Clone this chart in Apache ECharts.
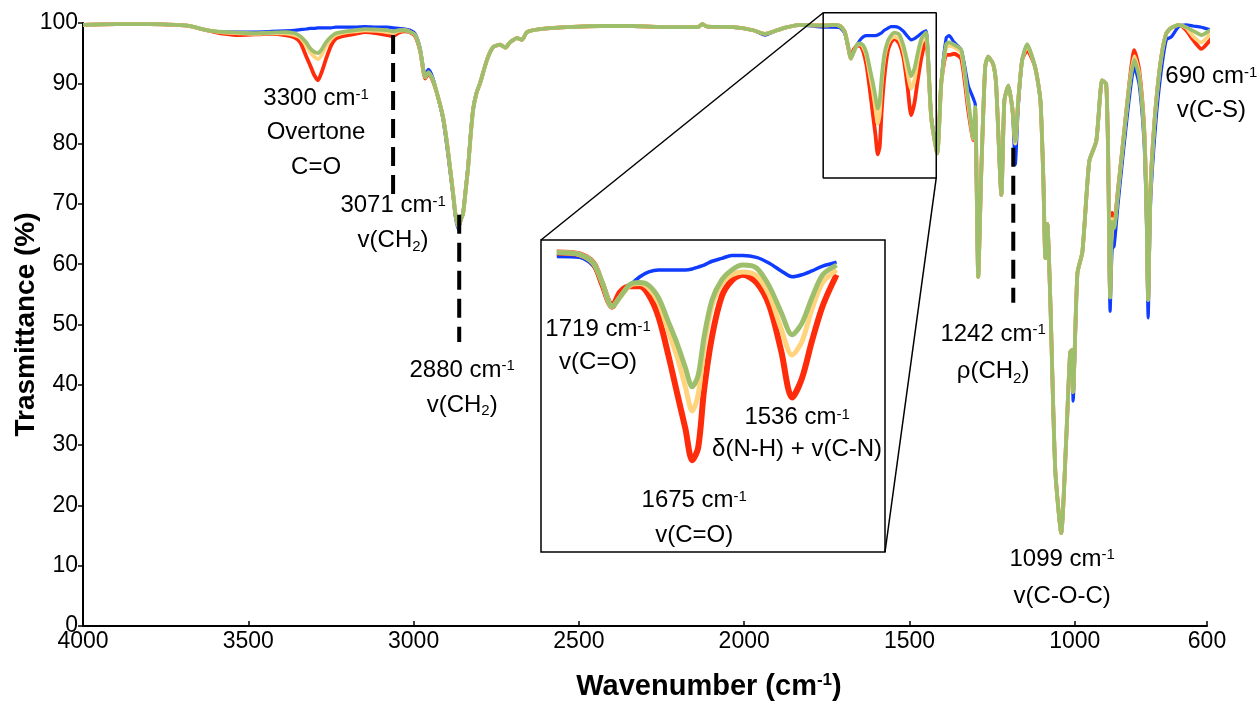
<!DOCTYPE html>
<html><head><meta charset="utf-8">
<script src="https://cdn.jsdelivr.net/npm/echarts@6/dist/echarts.min.js"></script>
<style>html,body{margin:0;padding:0;background:#fff}#c{width:1257px;height:708px}</style>
</head><body><div id="c"></div>
<script>
// Wavenumber (cm-1)
const wavenumber = [
 4000,3900,3800,3720,3676,3640,3600,3570,3530,3480,
 3430,3390,3360,3343,3325,3313,3300,3289,3277,3265,
 3250,3235,3207,3177,3147,3110,3080,3062,3045,3026,
 3010,2995,2980,2965,2955,2941,2925,2911,2900,2890,
 2880,2874,2865,2856,2850,2842,2835,2828,2820,2810,
 2799,2778,2759,2738,2723,2708,2687,2672,2657,2617,
 2536,2436,2336,2233,2140,2127,2112,2033,1973,1937,
 1900,1870,1831,1780,1750,1733,1710,1696,1687,1677,
 1669,1659,1649,1640,1630,1620,1611,1603,1596,1590,
 1584,1576,1566,1556,1545,1531,1518,1506,1495,1485,
 1475,1464,1450,1434,1416,1404,1389,1380,1365,1343,
 1322,1307,1301,1292,1283,1271,1262,1247,1238,1222,
 1213,1201,1189,1180,1171,1159,1144,1120,1104,1095,
 1089,1083,1074,1059,1041,1026,1014,1008,1005,992,
 977,956,935,917,905,899,893,887,881,869,
 856,835,820,805,790,783,778,772,765,753,
 738,723,708,684,663,642,617,590,569,551,
 520
];
// Transmittance (%) of the four samples
const blueT = [
 99.7,99.8,99.8,99.7,99.5,99.0,98.6,98.5,98.5,98.5,
 98.6,98.7,98.8,98.9,99.0,99.1,99.1,99.2,99.2,99.2,
 99.2,99.3,99.3,99.3,99.4,99.3,99.3,99.2,99.1,99.0,
 98.8,98.2,95.8,91.4,92.3,90.8,87.4,84.0,79.8,75.5,
 71.0,68.0,65.8,67.5,68.8,72.8,76.5,81.3,85.8,88.4,
 90.0,93.9,96.0,96.4,95.9,96.8,97.5,97.2,98.5,99.0,
 99.3,99.5,99.5,99.3,99.3,99.8,99.4,99.3,98.8,98.0,
 98.8,99.3,99.7,99.4,99.3,99.3,99.2,98.3,96.4,94.4,
 95.1,96.3,97.2,97.7,97.9,97.9,97.9,97.9,98.0,98.2,
 98.4,98.8,99.1,99.4,99.4,99.2,98.6,97.8,97.2,97.4,
 97.8,98.3,98.7,84.5,78.8,90.2,97.5,97.9,96.8,95.5,
 89.6,87.5,86.5,57.9,75.0,92.7,94.4,93.2,89.9,71.5,
 87.1,89.6,85.9,76.5,86.0,93.9,96.4,92.7,87.2,74.0,
 61.0,66.7,54.1,25.9,15.4,30.8,45.4,45.8,37.3,58.5,
 62.0,77.1,80.4,90.5,89.9,77.0,52.2,62.5,63.0,70.0,
 77.0,87.5,92.7,89.7,79.8,67.0,51.1,68.0,76.0,84.7,
 92.2,97.2,97.7,99.5,99.7,99.5,99.3,98.9,99.2,99.5,
 99.7
];
const redT = [
 99.7,99.8,99.8,99.7,99.5,99.0,98.5,98.2,98.0,98.1,
 98.2,98.0,97.6,96.8,94.5,93.0,91.3,90.5,92.0,94.0,
 96.2,97.4,97.9,98.2,98.5,98.3,98.0,97.8,98.4,98.6,
 98.4,97.8,95.3,90.8,91.6,90.3,87.5,84.4,80.5,76.1,
 71.5,68.5,66.2,67.5,68.5,72.5,76.1,81.0,85.6,88.3,
 90.0,93.9,96.0,96.4,95.9,96.8,97.5,97.2,98.5,99.0,
 99.3,99.5,99.5,99.3,99.3,99.8,99.4,99.3,98.8,98.2,
 98.8,99.3,99.7,99.6,99.6,99.7,99.5,98.6,96.4,94.1,
 95.6,96.2,96.2,95.3,93.0,89.0,85.0,81.5,78.2,79.5,
 85.5,91.0,95.2,96.8,97.4,96.6,94.2,89.5,84.7,86.7,
 90.5,94.2,97.4,84.2,78.4,89.9,94.7,94.7,94.9,94.0,
 85.4,80.6,85.0,57.9,75.0,92.7,94.4,93.2,89.9,71.5,
 87.1,89.6,85.9,80.4,87.1,93.9,95.5,92.7,87.2,74.0,
 61.0,66.7,54.1,25.9,15.4,30.8,45.4,45.8,38.8,58.5,
 62.0,77.1,80.4,90.5,89.9,78.0,55.0,68.5,67.0,72.5,
 79.2,90.0,95.5,92.2,82.5,70.0,54.5,71.0,79.0,87.5,
 94.5,98.3,99.2,99.7,98.8,97.2,95.7,97.2,98.8,99.4,
 99.7
];
const yellowT = [
 99.7,99.8,99.8,99.7,99.5,99.0,98.6,98.4,98.3,98.2,
 98.3,98.3,98.0,97.6,96.3,95.2,94.4,94.0,94.8,96.2,
 97.3,98.0,98.4,98.6,98.8,98.7,98.5,98.3,98.7,98.8,
 98.5,98.0,95.5,91.0,91.8,90.5,87.5,84.4,80.5,76.1,
 71.5,68.5,66.2,67.5,68.5,72.5,76.1,81.0,85.6,88.3,
 90.0,93.9,96.0,96.4,95.9,96.8,97.5,97.2,98.5,99.0,
 99.3,99.5,99.5,99.3,99.3,99.8,99.4,99.3,98.8,98.2,
 98.8,99.3,99.7,99.6,99.6,99.7,99.5,98.6,96.6,94.1,
 95.1,96.3,96.5,96.0,94.5,91.5,88.8,85.8,83.3,85.0,
 90.0,94.2,96.5,97.4,97.7,97.3,95.3,91.8,89.1,90.5,
 93.8,96.6,97.9,84.2,78.4,89.9,96.0,96.2,96.0,95.0,
 86.5,80.8,86.0,57.9,75.0,92.7,94.4,93.2,89.9,71.5,
 87.1,89.6,85.9,80.0,87.1,93.9,96.2,92.7,87.2,74.0,
 61.0,66.7,54.1,25.9,15.4,30.8,45.4,45.8,38.8,58.5,
 62.0,77.1,80.4,90.5,89.9,78.0,54.5,67.5,66.5,72.0,
 78.9,89.6,94.5,91.5,82.0,69.5,54.1,70.5,78.5,87.2,
 94.4,98.3,99.2,99.7,99.2,97.8,96.8,98.2,99.2,99.5,
 99.7
];
const greenT = [
 99.7,99.8,99.8,99.7,99.5,99.0,98.6,98.5,98.4,98.3,
 98.4,98.5,98.3,97.8,96.8,95.8,95.2,95.0,95.7,96.8,
 97.7,98.3,98.6,98.8,99.0,98.9,98.8,98.6,98.8,98.8,
 98.5,98.0,95.5,91.0,91.8,90.5,87.5,84.4,80.5,76.1,
 71.5,68.5,66.2,67.5,68.5,72.5,76.1,81.0,85.6,88.3,
 90.0,93.9,96.0,96.4,95.9,96.8,97.5,97.2,98.5,99.0,
 99.3,99.5,99.5,99.3,99.3,99.8,99.4,99.3,98.8,98.2,
 98.8,99.3,99.7,99.6,99.6,99.7,99.5,98.6,96.6,94.1,
 95.1,96.4,96.6,96.3,95.0,92.5,90.2,87.8,85.8,87.0,
 91.0,94.8,96.9,97.9,98.4,98.1,96.2,93.5,91.2,92.4,
 95.0,97.4,98.4,84.2,78.4,89.9,96.5,96.8,96.4,95.5,
 87.2,80.9,86.0,57.9,75.0,92.7,94.4,93.2,89.9,71.5,
 87.1,89.6,85.9,80.4,87.1,93.9,96.5,92.7,87.2,74.0,
 61.0,66.7,54.1,25.9,15.4,30.8,45.4,45.8,38.8,58.5,
 62.0,77.1,80.4,90.5,89.9,78.0,54.5,67.0,66.0,72.0,
 78.9,89.4,93.9,91.0,81.8,69.0,54.1,70.5,78.5,87.2,
 94.4,98.3,99.2,99.7,99.3,98.7,98.0,98.8,99.3,99.5,
 99.7
];
const xTickValues = [4000, 3500, 3000, 2500, 2000, 1500, 1000, 600];
// inset (zoom) window: wavenumber range and transmittance range
const insetDataRange = [1450, 1733];
const zoomBox = {wnFrom: 1761, wnTo: 1419, tTop: 101.7, tBottom: 74.3};
const insetAxis = {wnMin: 1401, wnMax: 1749, tMin: 68.7, tMax: 101};
// dashed marker lines: [wavenumber, from %, to %]
const dashMarkers = [[3062, 98.0, 71.5], [2862, 68.2, 47.1], [1186, 79.3, 53.6]];
// annotation text blocks, anchored at top-centre (main axes data coords)
const annotations = [
 {wn: 3295, t: 90.4, lh: 34.5, text: '3300 cm{sup|-1}\nOvertone\nC=O'},
 {wn: 3062, t: 72.6, lh: 35, text: '3071 cm{sup|-1}\nv(CH{sub|2})'},
 {wn: 2853, t: 45.3, lh: 35, text: '2880 cm{sup|-1}\nv(CH{sub|2})'},
 {wn: 2442, t: 51.9, lh: 33, text: '1719 cm{sup|-1}\nv(C=O)'},
 {wn: 2151, t: 23.7, lh: 35, text: '1675 cm{sup|-1}\nv(C=O)'},
 {wn: 1840, t: 37.3, lh: 32, text: '1536 cm{sup|-1}\nδ(N-H) + v(C-N)'},
 {wn: 1247, t: 51.4, lh: 37, text: '1242 cm{sup|-1}\nρ(CH{sub|2})'},
 {wn: 1038, t: 14.1, lh: 37, text: '1099 cm{sup|-1}\nv(C-O-C)'},
 {wn: 587, t: 93.9, lh: 34, text: '690 cm{sup|-1}\nv(C-S)'}
];

const FONT = '"Liberation Sans", Arial, Helvetica, sans-serif';
const COLORS = {blue: '#0f3cff', red: '#ff2c0c', yellow: '#ffd47c', green: '#9dbf6c'};
const seriesDefs = [
  {name: 'blue', vals: blueT, w: 3.2, wi: 3.5},
  {name: 'red', vals: redT, w: 3.8, wi: 6},
  {name: 'yellow', vals: yellowT, w: 3.8, wi: 5},
  {name: 'green', vals: greenT, w: 3.8, wi: 5}
];

const chart = echarts.init(document.getElementById('c'), null, {renderer: 'canvas'});
const series = [];
seriesDefs.forEach(d => {
  series.push({
    type: 'line', xAxisIndex: 0, yAxisIndex: 0, clip: false,
    data: wavenumber.map((w, i) => [w, d.vals[i]]),
    symbol: 'none', smooth: 0.2, silent: true,
    lineStyle: {color: COLORS[d.name], width: d.w, join: 'round'}
  });
});
seriesDefs.forEach(d => {
  const pts = [];
  wavenumber.forEach((w, i) => { if (w >= insetDataRange[0] && w <= insetDataRange[1]) pts.push([w, d.vals[i]]); });
  series.push({
    type: 'line', xAxisIndex: 1, yAxisIndex: 1, clip: false,
    data: pts, symbol: 'none', smooth: 0.3, silent: true,
    lineStyle: {color: COLORS[d.name], width: d.wi, join: 'round'}
  });
});
series.push({
  type: 'line', xAxisIndex: 0, yAxisIndex: 0, clip: false, symbol: 'none', silent: true,
  data: [[zoomBox.wnFrom, zoomBox.tTop], [zoomBox.wnTo, zoomBox.tTop], [zoomBox.wnTo, zoomBox.tBottom],
         [zoomBox.wnFrom, zoomBox.tBottom], [zoomBox.wnFrom, zoomBox.tTop]],
  lineStyle: {color: '#000', width: 1.5}
});
dashMarkers.forEach(m => {
  series.push({
    type: 'line', xAxisIndex: 0, yAxisIndex: 0, clip: false, symbol: 'none', silent: true, z: 5,
    data: [[m[0], m[1]], [m[0], m[2]]],
    lineStyle: {color: '#000', width: 4, type: [19, 9], cap: 'butt'}
  });
});

chart.setOption({
  animation: false,
  backgroundColor: '#fff',
  textStyle: {fontFamily: FONT},
  grid: [
    {left: 83, right: 50, top: 23, bottom: 82, containLabel: false, outerBoundsMode: 'none'},
    {left: 541, top: 240, width: 344, height: 312, show: true, borderColor: '#000', borderWidth: 1.5,
     backgroundColor: '#fff', containLabel: false, outerBoundsMode: 'none'}
  ],
  xAxis: [
    {
      type: 'value', gridIndex: 0, min: 600, max: 4000, inverse: true,
      axisLine: {show: true, onZero: false, lineStyle: {color: '#000', width: 2}},
      axisTick: {show: true, inside: true, length: 5, customValues: xTickValues, lineStyle: {color: '#000', width: 1.5}},
      axisLabel: {customValues: xTickValues, color: '#000', fontSize: 23, fontFamily: FONT, margin: 4,
        formatter: v => String(v)},
      splitLine: {show: false},
      name: 'Wavenumber (cm{sup|-1})', nameLocation: 'middle', nameGap: 46, nameMoveOverlap: false,
      nameTextStyle: {color: '#000', fontSize: 29, fontWeight: 'bold', fontFamily: FONT, padding: [0, 0, 0, 128],
        rich: {sup: {fontSize: 17, fontWeight: 'bold', fontFamily: FONT, verticalAlign: 'top', color: '#000'}}}
    },
    {type: 'value', gridIndex: 1, min: insetAxis.wnMin, max: insetAxis.wnMax, inverse: true, show: false}
  ],
  yAxis: [
    {
      type: 'value', gridIndex: 0, min: 0, max: 100, interval: 10,
      axisLine: {show: true, lineStyle: {color: '#000', width: 2}},
      axisTick: {show: true, length: 5, lineStyle: {color: '#000', width: 1.5}},
      axisLabel: {color: '#000', fontSize: 23, fontFamily: FONT, margin: 5, formatter: v => String(v)},
      splitLine: {show: false},
      name: 'Trasmittance (%)', nameLocation: 'middle', nameGap: 43, nameMoveOverlap: false,
      nameTextStyle: {color: '#000', fontSize: 28, fontWeight: 'bold', fontFamily: FONT}
    },
    {type: 'value', gridIndex: 1, min: insetAxis.tMin, max: insetAxis.tMax, show: false}
  ],
  series: series
});

// decorations positioned through the axes
const p = (g, a) => chart.convertToPixel({gridIndex: g}, a);
const boxTL = p(0, [zoomBox.wnFrom, zoomBox.tTop]);
const boxBR = p(0, [zoomBox.wnTo, zoomBox.tBottom]);
const insTL = p(1, [insetAxis.wnMax, insetAxis.tMax]);
const insBR = p(1, [insetAxis.wnMin, insetAxis.tMin]);
const graphics = [
  {type: 'line', silent: true, z: 10, shape: {x1: boxTL[0], y1: boxTL[1], x2: insTL[0], y2: insTL[1]}, style: {stroke: '#000', lineWidth: 1.5}},
  {type: 'line', silent: true, z: 10, shape: {x1: boxBR[0], y1: boxBR[1], x2: insBR[0], y2: insBR[1]}, style: {stroke: '#000', lineWidth: 1.5}}
];
annotations.forEach(a => {
  const pos = p(0, [a.wn, a.t]);
  graphics.push({
    type: 'text', silent: true, z: 20, x: pos[0], y: pos[1],
    style: {
      text: a.text, fill: '#000', fontSize: 24, fontFamily: FONT, lineHeight: a.lh,
      align: 'center', verticalAlign: 'top', textAlign: 'center', textVerticalAlign: 'top',
      rich: {
        sup: {fontSize: 15, fontFamily: FONT, fill: '#000', color: '#000', verticalAlign: 'top', padding: [6, 0, 0, 0], lineHeight: 20},
        sub: {fontSize: 15, fontFamily: FONT, fill: '#000', color: '#000', verticalAlign: 'bottom', padding: [0, 0, 4, 0], lineHeight: 20}
      }
    }
  });
});
chart.setOption({graphic: graphics});
</script>
</body></html>
